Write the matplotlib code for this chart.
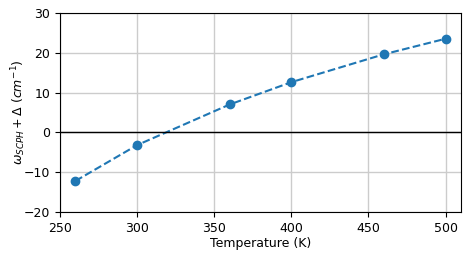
import matplotlib
matplotlib.use("Agg")
import matplotlib.pyplot as plt

temperature = [260, 300, 360, 400, 460, 500]
omega = [-12.2, -3.2, 7.0, 12.6, 19.6, 23.5]

plt.rcParams['font.size'] = 9
fig, ax = plt.subplots(figsize=(4.69, 2.57), dpi=100)
fig.subplots_adjust(left=0.128, right=0.983, top=0.95, bottom=0.175)
ax.plot(temperature, omega, 'o--', color='#1f77b4', markersize=6, linewidth=1.5)
ax.axhline(0, color='black', linewidth=1)
ax.grid(True, linewidth=1, color='#cccccc')
ax.set_axisbelow(True)
ax.set_xlim(250, 510)
ax.set_ylim(-20, 30)
ax.set_xticks([250, 300, 350, 400, 450, 500])
ax.set_yticks([-20, -10, 0, 10, 20, 30])
ax.set_xlabel('Temperature (K)', labelpad=1.5)
ax.set_ylabel(r'$\omega_{SCPH} + \Delta$ $(cm^{-1})$')
ax.yaxis.set_label_coords(-0.08, 0.5)
fig.savefig('out.png', dpi=100)
